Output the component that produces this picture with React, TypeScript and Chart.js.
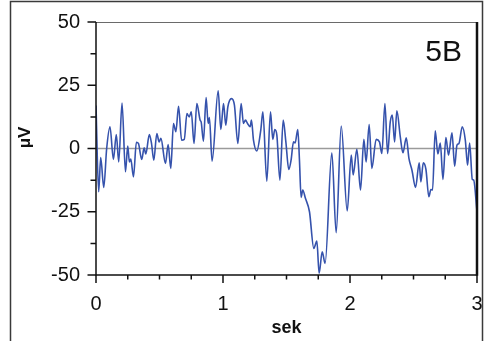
import React, { useEffect, useRef } from "react";
import { Chart, registerables } from "chart.js";

Chart.register(...registerables);

// time (s) of each vertex of the trace
const times: number[] = [
  0, 0.021, 0.037, 0.061, 0.084, 0.11, 0.137, 0.16, 0.179, 0.205, 0.232, 0.25, 0.263, 0.274, 0.295,
  0.318, 0.334, 0.36, 0.379, 0.392, 0.42, 0.437, 0.455, 0.479, 0.497, 0.511, 0.547, 0.568, 0.589,
  0.61, 0.629, 0.65, 0.674, 0.695, 0.716, 0.734, 0.75, 0.772, 0.794, 0.82, 0.828, 0.846, 0.867,
  0.883, 0.893, 0.914, 0.962, 0.983, 1.004, 1.022, 1.038, 1.067, 1.09, 1.117, 1.143, 1.161, 1.177,
  1.193, 1.214, 1.224, 1.24, 1.266, 1.298, 1.314, 1.345, 1.374, 1.392, 1.408, 1.424, 1.448, 1.474,
  1.495, 1.518, 1.536, 1.555, 1.568, 1.589, 1.602, 1.615, 1.628, 1.649, 1.681, 1.715, 1.739, 1.757,
  1.781, 1.804, 1.857, 1.891, 1.931, 1.978, 2.01, 2.025, 2.054, 2.083, 2.109, 2.127, 2.151, 2.172,
  2.206, 2.232, 2.251, 2.275, 2.296, 2.317, 2.333, 2.351, 2.369, 2.396, 2.417, 2.443, 2.464, 2.488,
  2.516, 2.545, 2.558, 2.577, 2.598, 2.621, 2.637, 2.65, 2.671, 2.692, 2.711, 2.732, 2.755, 2.776,
  2.803, 2.824, 2.842, 2.858, 2.884, 2.908, 2.926, 2.942, 2.963, 2.974, 2.999,
];

// amplitude (µV) at each vertex
const microvolts: number[] = [
  17, -17.1, -3.6, -15.4, 0, 8.6, -4.3, 5.5, -5.3, 18, -9.2, 1, -5.3, -4.2, -11.2,
  2.5, 2.0, -4.3, 0.3, -2.2, 5.5, 2.0, -4.6, 5.9, 2.6, 4.0, -5.9, 1.6, -7.9,
  9.9, 6.6, 16.7, 3.3, 3.6, 13.8, 12.5, 14.5, 2.0, 17.8, 11.2, 10.5, 2.9, 20.1,
  9.9, 12.2, -5.0, 22.8, 7.5, 17.8, 9.2, 16.4, 19.7, 17.1, 2.0, 17.8, 9.9, 11.2,
  9.9, 8.6, 11.2, 3.3, -1.0, 7.5, 14.5, -12.9, 14.5, 3.6, 7.5, 5.3, -12.5, 11.2,
  2.6, -8.3, -4.6, 2.6, 2.2, 7.5, -4.6, -19.3, -16.4, -19.7, -25, -39.5, -36.6, -49.3,
  -40.8, -45.4, -1.7, -33.3, 8.9, -24.7, -2.6, -10.5, -0.3, -16.4, 3.6, -5.3, 9.5, -7.9,
  3.6, 2.6, -2.0, 17.8, -2.0, 10.5, 13.2, 2.6, 14.9, 4.6, -1.7, 4.2, -3.9, -8.6,
  -15.4, -5.7, -13.2, -5.7, -8.3, -19.1, -16.2, -16.4, 7.0, -2.2, 2.2, -12.2, 4.3, -2.6,
  6.2, -7.0, 1.3, 2.0, 8.6, 3.3, -6.6, 2.2, -12.2, -12.5, -24.3,
];

const xMajorTicks: number[] = [0, 1, 2, 3];
const xMinorTicks: number[] = [0.25, 0.5, 0.75, 1.25, 1.5, 1.75, 2.25, 2.5, 2.75];
const yMajorTicks: number[] = [-50, -25, 0, 25, 50];
const yMinorTicks: number[] = [-37.5, -12.5, 12.5, 37.5];

const panelLabel = "5B";
const xTitle = "sek";
const yTitle = "μV";

const FONT = "Arial, 'Liberation Sans', Helvetica, sans-serif";
const CLEAR = "rgba(0,0,0,0)";

const decor = {
  id: "decor",
  beforeDraw(chart: any) {
    const { ctx, height } = chart;
    ctx.save();
    ctx.fillStyle = "#fff";
    ctx.fillRect(0, 0, chart.width, height);
    // outer frame
    ctx.strokeStyle = "#3a3a3a";
    ctx.lineWidth = 1.5;
    ctx.beginPath();
    ctx.moveTo(10.5, height);
    ctx.lineTo(10.5, 1.5);
    ctx.lineTo(482.5, 1.5);
    ctx.lineTo(482.5, height);
    ctx.stroke();
    ctx.restore();
  },
  beforeDatasetsDraw(chart: any) {
    const { ctx, chartArea: a, scales } = chart;
    const y0 = scales.y.getPixelForValue(0);
    ctx.save();
    ctx.strokeStyle = "#9a9a9a";
    ctx.lineWidth = 1.5;
    ctx.beginPath();
    ctx.moveTo(a.left, y0);
    ctx.lineTo(a.right, y0);
    ctx.stroke();
    ctx.restore();
  },
  afterDraw(chart: any) {
    const { ctx, chartArea: a, scales } = chart;
    const { x, y } = scales;
    ctx.save();
    // plot box
    ctx.strokeStyle = "#6a6a6a";
    ctx.lineWidth = 1;
    ctx.beginPath();
    ctx.moveTo(a.left, a.top + 0.5);
    ctx.lineTo(a.right, a.top + 0.5);
    ctx.stroke();
    ctx.strokeStyle = "#111";
    ctx.lineWidth = 1.5;
    ctx.beginPath();
    ctx.moveTo(a.left, a.top);
    ctx.lineTo(a.left, a.bottom);
    ctx.lineTo(a.right, a.bottom);
    ctx.stroke();
    ctx.lineWidth = 2.5;
    ctx.beginPath();
    ctx.moveTo(a.right, a.top);
    ctx.lineTo(a.right, a.bottom + 0.75);
    ctx.stroke();

    // tick marks
    ctx.lineWidth = 1.5;
    ctx.beginPath();
    xMajorTicks.forEach((v) => {
      const px = x.getPixelForValue(v);
      ctx.moveTo(px, a.bottom);
      ctx.lineTo(px, a.bottom + 8);
    });
    xMinorTicks.forEach((v) => {
      const px = x.getPixelForValue(v);
      ctx.moveTo(px, a.bottom);
      ctx.lineTo(px, a.bottom + 4.5);
    });
    yMajorTicks.forEach((v) => {
      const py = y.getPixelForValue(v);
      ctx.moveTo(a.left, py);
      ctx.lineTo(a.left - 8.5, py);
    });
    yMinorTicks.forEach((v) => {
      const py = y.getPixelForValue(v);
      ctx.moveTo(a.left, py);
      ctx.lineTo(a.left - 5.5, py);
    });
    ctx.stroke();

    // panel label
    ctx.fillStyle = "#111";
    ctx.font = `30px ${FONT}`;
    ctx.textAlign = "right";
    ctx.textBaseline = "alphabetic";
    ctx.fillText(panelLabel, 462, 61);

    // y axis title
    ctx.translate(30, 137.5);
    ctx.rotate(-Math.PI / 2);
    ctx.font = `bold 17px ${FONT}`;
    ctx.textAlign = "center";
    ctx.textBaseline = "alphabetic";
    ctx.fillText(yTitle, 0, 0);
    ctx.restore();
  },
};

export default function App() {
  const ref = useRef<HTMLCanvasElement | null>(null);

  useEffect(() => {
    if (!ref.current) return;
    const points = times.map((t, i) => ({ x: t, y: microvolts[i] }));
    const chart = new Chart(ref.current, {
      type: "line",
      data: {
        datasets: [
          {
            data: points,
            borderColor: "#3552ac",
            borderWidth: 1.6,
            pointRadius: 0,
            cubicInterpolationMode: "monotone",
            fill: false,
          },
        ],
      },
      options: {
        responsive: false,
        animation: false,
        devicePixelRatio: 1,
        layout: { padding: { top: 22, right: 12, left: 0, bottom: 0 } },
        plugins: { legend: { display: false }, tooltip: { enabled: false } },
        scales: {
          x: {
            type: "linear",
            min: 0,
            max: 3,
            afterBuildTicks: (s: any) => {
              s.ticks = xMajorTicks.map((v) => ({ value: v }));
            },
            afterFit: (s: any) => {
              s.height = 66;
            },
            grid: { display: true, drawOnChartArea: false, drawTicks: true, tickLength: 17, color: CLEAR },
            border: { display: false },
            ticks: {
              color: "#111",
              font: { family: FONT, size: 20 },
              padding: 0,
              maxRotation: 0,
            },
            title: {
              display: true,
              text: xTitle,
              color: "#111",
              font: { family: FONT, size: 18, weight: "bold" },
              padding: { top: 0, bottom: 2 },
            },
          },
          y: {
            type: "linear",
            min: -50,
            max: 50,
            afterBuildTicks: (s: any) => {
              s.ticks = yMajorTicks.map((v) => ({ value: v }));
            },
            afterFit: (s: any) => {
              s.width = 96;
            },
            grid: { display: true, drawOnChartArea: false, drawTicks: true, tickLength: 16, color: CLEAR },
            border: { display: false },
            ticks: {
              color: "#111",
              font: { family: FONT, size: 20 },
              padding: 0,
            },
          },
        },
      },
      plugins: [decor],
    } as any);
    return () => chart.destroy();
  }, []);

  return (
    <div style={{ position: "fixed", left: 0, top: 0, width: 489, height: 341, background: "#fff" }}>
      <canvas ref={ref} width={489} height={341} style={{ display: "block" }} />
    </div>
  );
}
